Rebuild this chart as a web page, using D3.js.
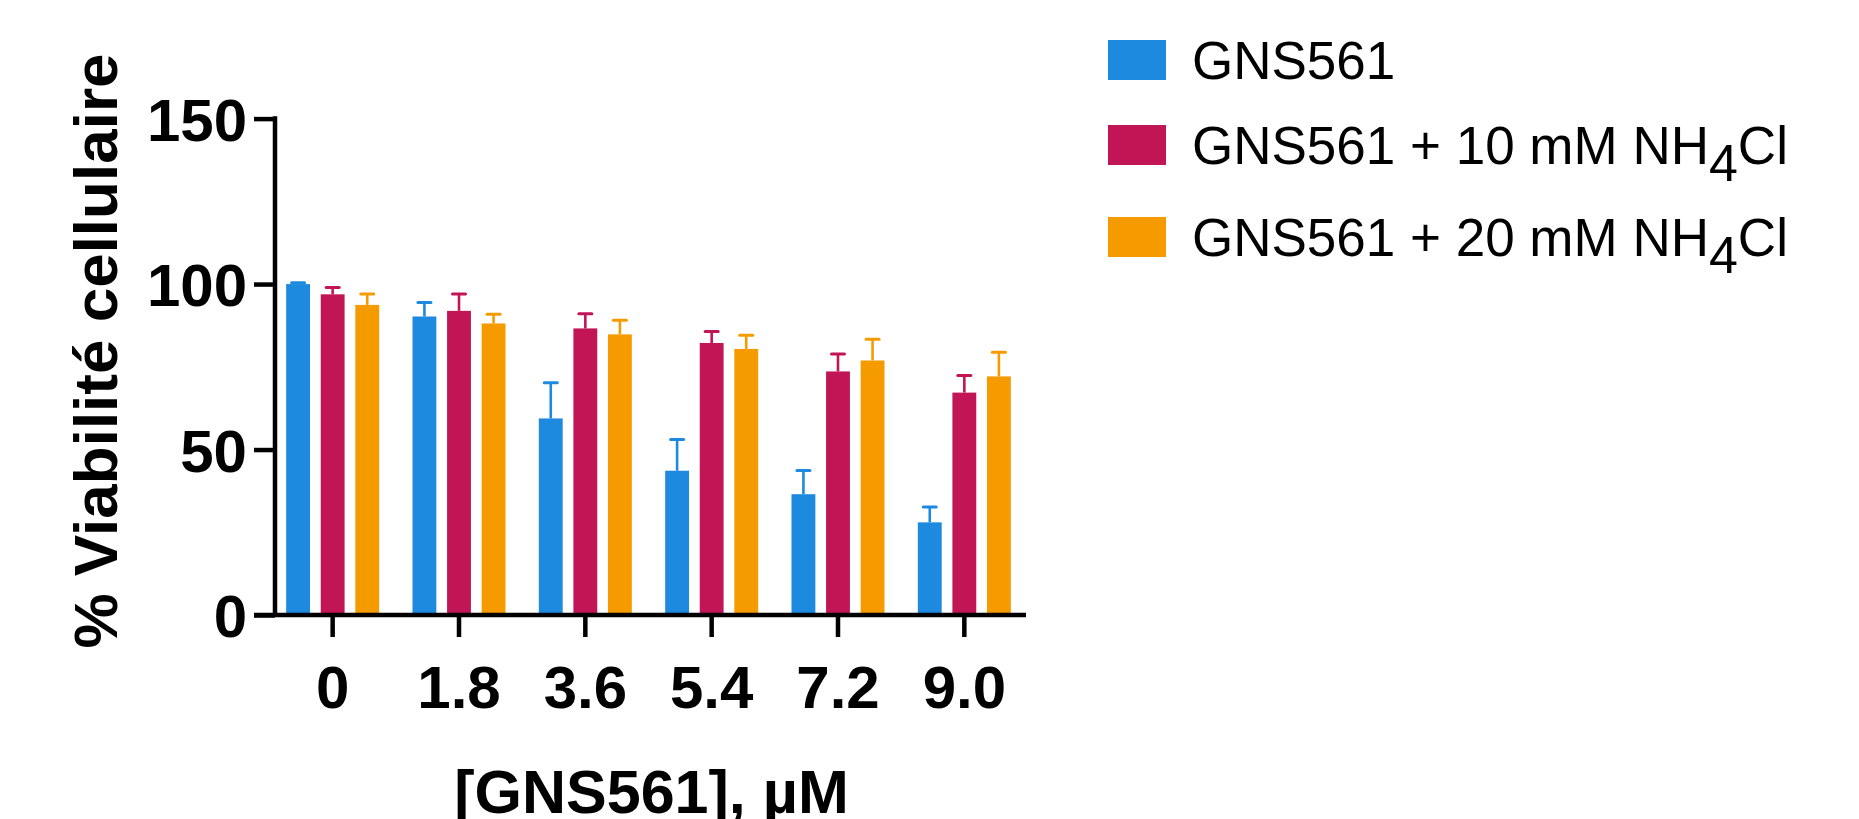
<!DOCTYPE html>
<html>
<head>
<meta charset="utf-8">
<script src="https://cdn.jsdelivr.net/npm/d3@7"></script>
<style>
  html, body { margin: 0; padding: 0; background: #fff; }
  svg { display: block; }
  text { font-family: "Liberation Sans", Arial, Helvetica, sans-serif; }
</style>
</head>
<body>
<svg id="chart" width="1859" height="819"></svg>
<script>
// ---- data ----
const categories = ["0", "1.8", "3.6", "5.4", "7.2", "9.0"];
const seriesNames = ["GNS561", "GNS561 + 10 mM NH4Cl", "GNS561 + 20 mM NH4Cl"];
const gnsValues   = [100.0, 90.2, 59.4, 43.6, 36.5, 28.0];
const gnsErrors   = [0.4, 4.2, 10.8, 9.4, 7.2, 4.6];
const nh10Values  = [96.9, 91.9, 86.6, 82.2, 73.6, 67.2];
const nh10Errors  = [2.1, 5.1, 4.4, 3.5, 5.3, 5.2];
const nh20Values  = [93.7, 88.1, 84.8, 80.4, 76.9, 72.1];
const nh20Errors  = [3.3, 2.8, 4.3, 4.1, 6.4, 7.3];
const yTicks = [0, 50, 100, 150];
const colors = ["#1E8ADF", "#C11555", "#F59B00"];

const series = [
  { name: seriesNames[0], values: gnsValues, errors: gnsErrors },
  { name: seriesNames[1], values: nh10Values, errors: nh10Errors },
  { name: seriesNames[2], values: nh20Values, errors: nh20Errors }
];

// ---- layout ----
const svg = d3.select("#chart");
const axisX = 275;          // y-axis line position
const xEnd = 1026;          // x-axis end
const y = d3.scaleLinear().domain([0, 150]).range([615, 118.6]);
const x0 = d3.scaleBand().domain(categories).range([269.5, 1027.5]).paddingInner(0).paddingOuter(0);
const x1 = d3.scaleBand().domain(d3.range(series.length)).range([-46.5, 46.5]).paddingInner(0.31).paddingOuter(0);

const tickFont = 60;

// ---- bars ----
const groups = svg.append("g").selectAll("g")
  .data(categories)
  .join("g")
  .attr("transform", d => `translate(${x0(d) + x0.bandwidth() / 2},0)`);

series.forEach((s, si) => {
  groups.append("rect")
    .attr("x", (d, i) => x1(si))
    .attr("width", x1.bandwidth())
    .attr("y", (d, i) => y(s.values[i]))
    .attr("height", (d, i) => y(0) - y(s.values[i]))
    .attr("fill", colors[si]);
  // error bars (upper only)
  groups.append("line")
    .attr("x1", (d, i) => x1(si) + x1.bandwidth() / 2)
    .attr("x2", (d, i) => x1(si) + x1.bandwidth() / 2)
    .attr("y1", (d, i) => y(s.values[i]))
    .attr("y2", (d, i) => y(s.values[i] + s.errors[i]))
    .attr("stroke", colors[si])
    .attr("stroke-width", 2.6);
  groups.append("line")
    .attr("x1", (d, i) => x1(si) + x1.bandwidth() / 2 - 6.5)
    .attr("x2", (d, i) => x1(si) + x1.bandwidth() / 2 + 6.5)
    .attr("y1", (d, i) => y(s.values[i] + s.errors[i]))
    .attr("y2", (d, i) => y(s.values[i] + s.errors[i]))
    .attr("stroke", colors[si])
    .attr("stroke-width", 3)
    .attr("stroke-linecap", "round");
});

// ---- y axis ----
const yAxis = d3.axisLeft(y).tickValues(yTicks).tickSize(21).tickSizeOuter(0).tickPadding(7);
const gy = svg.append("g").attr("transform", `translate(${axisX},0)`).call(yAxis);
gy.select(".domain").attr("stroke", "#000").attr("stroke-width", 4.5)
  .attr("d", `M0,${y(150) - 2.25}V${y(0)}`);
gy.selectAll(".tick line").attr("stroke", "#000").attr("stroke-width", 4.5);
gy.selectAll(".tick text")
  .attr("font-size", tickFont)
  .attr("font-weight", "bold")
  .attr("fill", "#000")
  .attr("font-family", "'Liberation Sans', Arial, sans-serif")
  .attr("dy", "0.36em");

// ---- x axis ----
const xAxis = d3.axisBottom(x0).tickSize(22).tickSizeOuter(0).tickPadding(28);
const gx = svg.append("g").attr("transform", `translate(0,${y(0)})`).call(xAxis);
gx.select(".domain").attr("stroke", "#000").attr("stroke-width", 4.5)
  .attr("d", `M${axisX - 21},0H${xEnd}`);
gx.selectAll(".tick line").attr("stroke", "#000").attr("stroke-width", 4.5);
gx.selectAll(".tick text")
  .attr("font-size", tickFont)
  .attr("font-weight", "bold")
  .attr("fill", "#000")
  .attr("font-family", "'Liberation Sans', Arial, sans-serif")
  .attr("dy", "0.71em");

// ---- axis titles ----
svg.append("text")
  .attr("transform", `translate(117,351) rotate(-90)`)
  .attr("text-anchor", "middle")
  .attr("font-size", 62)
  .attr("font-weight", "bold")
  .text("% Viabilité cellulaire");

svg.append("text")
  .attr("x", (axisX + xEnd) / 2 + 1)
  .attr("y", 813)
  .attr("text-anchor", "middle")
  .attr("font-size", 61)
  .attr("font-weight", "bold")
  .text("[GNS561], µM");

// ---- legend ----
const legendRowsY = [60, 145, 237];
const legend = svg.append("g").selectAll("g")
  .data(series)
  .join("g")
  .attr("transform", (d, i) => `translate(1108,${legendRowsY[i]})`);

legend.append("rect")
  .attr("x", 0).attr("y", -20)
  .attr("width", 58).attr("height", 40)
  .attr("fill", (d, i) => colors[i]);

legend.each(function(d) {
  const t = d3.select(this).append("text")
    .attr("x", 84)
    .attr("y", 19)
    .attr("font-size", 53)
    .attr("fill", "#000");
  const m = d.name.match(/^(.*NH)4(Cl)$/);
  if (m) {
    t.append("tspan").text(m[1]);
    t.append("tspan").attr("font-size", 52).attr("fill", "#000").attr("dy", 17).text("4");
    t.append("tspan").attr("dy", -17).text(m[2]);
  } else {
    t.text(d.name);
  }
});
</script>
</body>
</html>
